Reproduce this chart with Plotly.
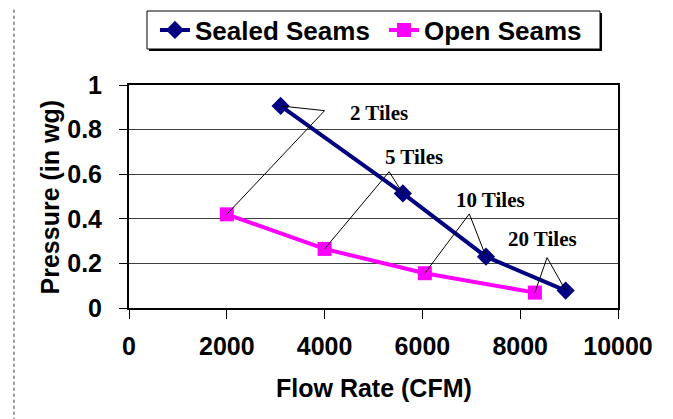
import plotly.graph_objects as go

# flow rate (CFM) vs pressure (in wg)
sealed_flow = [3100, 5600, 7300, 8930]
sealed_pressure = [0.906, 0.514, 0.230, 0.078]
open_flow = [2000, 4000, 6050, 8300]
open_pressure = [0.420, 0.265, 0.156, 0.069]

tile_labels = ["2 Tiles", "5 Tiles", "10 Tiles", "20 Tiles"]
# callout corner for each label, and where the label text sits
callout_x = [4000, 5320, 6960, 8550]
callout_y = [0.885, 0.611, 0.422, 0.226]
label_x = [5110, 5830, 7390, 8446]
label_y = [0.873, 0.679, 0.484, 0.308]

x_ticks = [0, 2000, 4000, 6000, 8000, 10000]
y_ticks = [0, 0.2, 0.4, 0.6, 0.8, 1]

SANS = "Liberation Sans, Arial, sans-serif"
SERIF = "Liberation Serif, Times New Roman, serif"

fig = go.Figure()

fig.add_trace(go.Scatter(x=sealed_flow, y=sealed_pressure,
                         mode="lines+markers",
                         name="<b>Sealed Seams</b>",
                         line=dict(color="#000080", width=4),
                         marker=dict(symbol="diamond", size=14, color="#000080")))
fig.add_trace(go.Scatter(x=open_flow, y=open_pressure,
                         mode="lines+markers",
                         name="<b>Open Seams</b>",
                         line=dict(color="#FF00FF", width=4),
                         marker=dict(symbol="square", size=14, color="#FF00FF")))

# callout pointers: sealed point -> corner -> open point
for i in range(len(tile_labels)):
    fig.add_trace(go.Scatter(x=[sealed_flow[i], callout_x[i], open_flow[i]],
                             y=[sealed_pressure[i], callout_y[i], open_pressure[i]],
                             mode="lines",
                             line=dict(color="black", width=1),
                             showlegend=False,
                             hoverinfo="skip"))
    fig.add_annotation(x=label_x[i], y=label_y[i], text=f"<b>{tile_labels[i]}</b>",
                       showarrow=False, xanchor="center", yanchor="middle",
                       font=dict(family=SERIF, size=21, color="black"))

fig.add_annotation(text="<b>Flow Rate (CFM)</b>", xref="paper", yref="paper",
                   x=0.5, y=-0.359, showarrow=False, xanchor="center", yanchor="middle",
                   font=dict(family=SANS, size=25, color="black"))
fig.add_annotation(text="<b>Pressure (in wg)</b>", xref="paper", yref="paper",
                   x=-0.1616, y=0.5, showarrow=False, textangle=-90,
                   xanchor="center", yanchor="middle",
                   font=dict(family=SANS, size=25, color="black"))

# dotted border round the whole chart
fig.add_shape(type="rect", xref="paper", yref="paper",
              x0=-0.2352, x1=1.1023, y0=-0.53, y1=1.3587,
              line=dict(color="#333333", width=1, dash="dot"))

# legend box with a small drop shadow (legend itself is drawn borderless)
fig.add_shape(type="rect", xref="paper", yref="paper",
              x0=0.0409, x1=0.9673, y0=1.1524, y1=1.3228,
              line=dict(width=0), fillcolor="black")
fig.add_shape(type="rect", xref="paper", yref="paper",
              x0=0.0368, x1=0.9632, y0=1.1614, y1=1.3318,
              line=dict(color="black", width=1), fillcolor="white")

fig.update_xaxes(range=[0, 10000], tickvals=x_ticks,
                 ticktext=["<b>%d</b>" % v for v in x_ticks],
                 showline=True, linewidth=2, linecolor="black", mirror=True,
                 ticks="outside", ticklen=9, tickwidth=1, tickcolor="black",
                 showgrid=False, zeroline=False, ticklabelstandoff=6,
                 tickfont=dict(family=SANS, size=25, color="black"))
fig.update_yaxes(range=[0, 1], tickvals=y_ticks,
                 ticktext=["<b>%g</b>" % v for v in y_ticks],
                 showline=True, linewidth=2, linecolor="black", mirror=True,
                 ticks="outside", ticklen=8, tickwidth=1, tickcolor="black",
                 showgrid=True, gridcolor="#404040", gridwidth=1,
                 zeroline=False, ticklabelstandoff=12,
                 tickfont=dict(family=SANS, size=25, color="black"))

# page puts the plot 8px in from the corner, so the figure is 8px smaller
fig.update_layout(width=665, height=411, autosize=False,
                  margin=dict(l=121, r=55, t=77, b=111),
                  plot_bgcolor="white", paper_bgcolor="white",
                  font=dict(family=SANS, color="black"),
                  showlegend=True,
                  legend=dict(orientation="h", xref="container", yref="container",
                              x=0.221, y=0.9465, xanchor="left", yanchor="middle",
                              bgcolor="rgba(0,0,0,0)", borderwidth=0,
                              font=dict(family=SANS, size=26, color="black"),
                              entrywidth=184, entrywidthmode="pixels"),
                  hovermode="closest")

fig.write_html("out.html")
